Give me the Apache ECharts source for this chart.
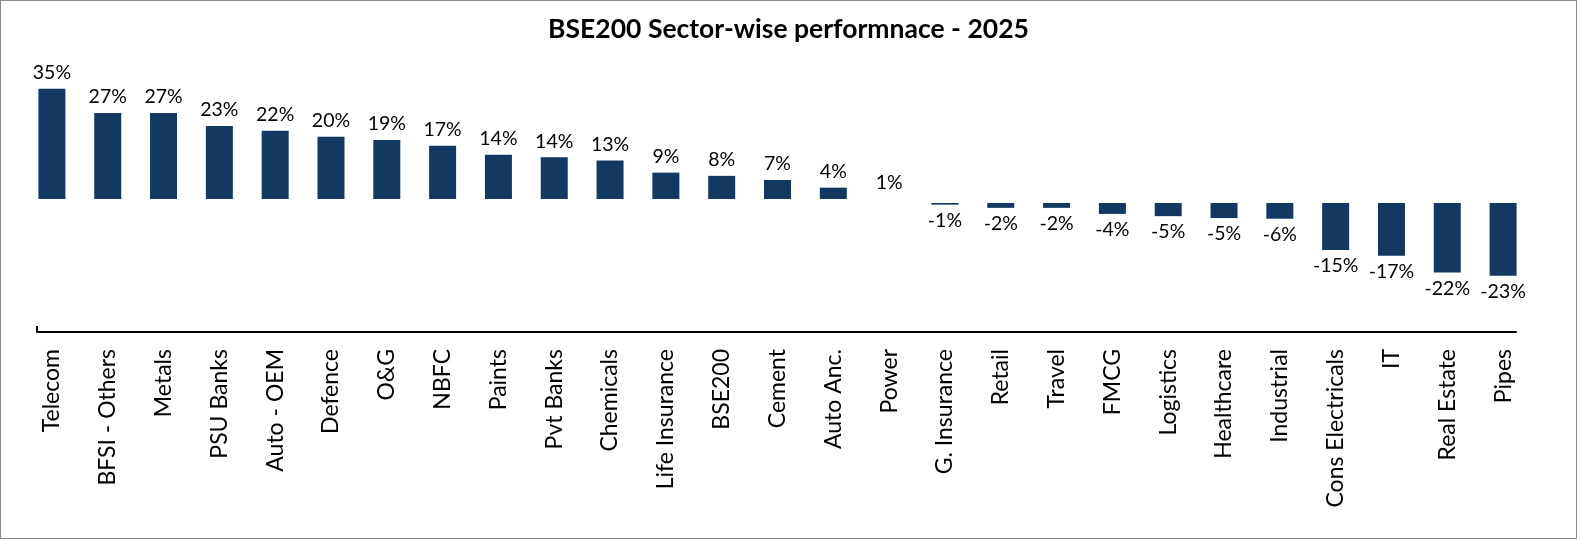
<!DOCTYPE html>
<html>
<head>
<meta charset="utf-8">
<script src="https://cdn.jsdelivr.net/npm/echarts@6/dist/echarts.min.js"></script>
<style>
  html, body { margin: 0; padding: 0; background: #fff; }
  #frame { position: absolute; left: 0; top: 0; width: 1575px; height: 537px; border: 1px solid #8a8a8a; }
  #chart { width: 1575px; height: 537px; }
</style>
</head>
<body>
<div id="frame"><div id="chart"></div></div>
<script>
const setores = ['Telecom', 'BFSI - Others', 'Metals', 'PSU Banks', 'Auto - OEM', 'Defence', 'O&G', 'NBFC',
    'Paints', 'Pvt Banks', 'Chemicals', 'Life Insurance', 'BSE200', 'Cement', 'Auto Anc.', 'Power',
    'G. Insurance', 'Retail', 'Travel', 'FMCG', 'Logistics', 'Healthcare', 'Industrial',
    'Cons Electricals', 'IT', 'Real Estate', 'Pipes'];

// retorno 2025 (%)
const retornos = [35, 27.4, 27.4, 23.4, 21.9, 20, 19, 17.2,
    14.4, 13.6, 12.6, 8.8, 7.8, 6.5, 4.1, 0.5,
    -1.2, -2.2, -2.2, -4.1, -4.8, -5.4, -5.6,
    -15.4, -17.2, -22.4, -23.4];

const titulo = 'BSE200 Sector-wise performnace - 2025';

const chart = echarts.init(document.getElementById('chart'));

const dados = retornos.map(v => ({
    value: v,
    label: { position: v >= 0 ? 'top' : 'bottom' }
}));

chart.setOption({
    animation: false,
    title: {
        text: titulo,
        left: 'center',
        top: 10,
        textStyle: { fontFamily: 'Lato', fontWeight: 'bold', fontSize: 26.5, color: '#000' }
    },
    grid: [
        { left: 23, right: 45, top: 84.6, bottom: 206, outerBoundsMode: 'none' },
        // só para a linha do eixo (mais curta que a área das barras, como no original)
        { left: 36, right: 60, top: 84.6, bottom: 206, outerBoundsMode: 'none' }
    ],
    xAxis: [{
        type: 'category',
        data: setores,
        axisLine: { show: false },
        axisTick: { show: false },
        axisLabel: {
            interval: 0,
            rotate: 90,
            margin: 17,
            fontFamily: 'Lato',
            fontSize: 23,
            color: '#000'
        }
    }, {
        type: 'category',
        gridIndex: 1,
        data: ['', ''],
        boundaryGap: false,
        axisLine: { onZero: false, lineStyle: { color: '#000', width: 2 } },
        axisTick: {
            show: true,
            inside: true,
            length: 6,
            interval: (i) => i === 0,
            lineStyle: { color: '#000', width: 2 }
        },
        axisLabel: { show: false }
    }],
    yAxis: [{
        type: 'value',
        min: -41,
        max: 36,
        show: false,
        splitLine: { show: false }
    }, {
        type: 'value',
        gridIndex: 1,
        show: false
    }],
    series: [{
        type: 'bar',
        data: dados,
        barWidth: 27,
        itemStyle: { color: '#133862' },
        label: {
            show: true,
            distance: 6,
            fontFamily: 'Lato',
            fontSize: 19.5,
            color: '#000',
            formatter: p => Math.round(p.value) + '%'
        },
        markLine: {
            silent: true,
            symbol: 'none',
            label: { show: false },
            lineStyle: { color: '#fff', width: 4.2, type: 'solid' },
            data: [{ yAxis: 0 }]
        }
    }]
});
</script>
</body>
</html>
